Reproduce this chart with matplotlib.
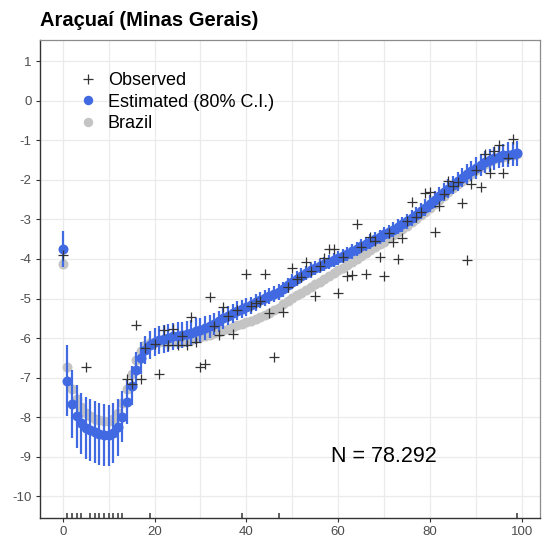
import numpy as np
import matplotlib
matplotlib.use("Agg")
import matplotlib.pyplot as plt
from matplotlib.lines import Line2D
import matplotlib.transforms as mtransforms

plt.rcParams['font.family'] = ['Liberation Sans', 'DejaVu Sans']
plt.rcParams['axes.unicode_minus'] = False

ages = np.arange(0, 100)

# estimated log mortality (blue dots)
estimated = [
    -3.75, -7.08, -7.67, -7.98, -8.16, -8.27, -8.33, -8.38, -8.42, -8.45,
    -8.46, -8.40, -8.25, -7.99, -7.62, -7.20, -6.80, -6.51, -6.30, -6.17,
    -6.10, -6.05, -6.02, -5.99, -5.96, -5.94, -5.92, -5.89, -5.86, -5.82,
    -5.79, -5.75, -5.70, -5.64, -5.58, -5.50, -5.43, -5.37, -5.31, -5.27,
    -5.22, -5.17, -5.10, -5.04, -4.99, -4.94, -4.89, -4.84, -4.76, -4.67,
    -4.58, -4.50, -4.42, -4.35, -4.29, -4.23, -4.18, -4.12, -4.07, -4.03,
    -3.98, -3.93, -3.87, -3.81, -3.75, -3.68, -3.62, -3.56, -3.50, -3.44,
    -3.38, -3.32, -3.26, -3.19, -3.12, -3.04, -2.96, -2.88, -2.79, -2.70,
    -2.60, -2.50, -2.40, -2.31, -2.22, -2.12, -2.03, -1.94, -1.86, -1.78,
    -1.70, -1.62, -1.55, -1.50, -1.45, -1.41, -1.38, -1.36, -1.34, -1.33,
]

# half width of the 80% interval
ci_half = [
    0.45, 0.90, 0.85, 0.80, 0.78, 0.78, 0.78, 0.78, 0.78, 0.78,
    0.78, 0.76, 0.72, 0.65, 0.55, 0.50, 0.45, 0.40, 0.36, 0.35,
    0.35, 0.35, 0.35, 0.35, 0.35, 0.34, 0.33, 0.33, 0.32, 0.32,
    0.31, 0.30, 0.29, 0.28, 0.27, 0.26, 0.25, 0.24, 0.24, 0.23,
    0.23, 0.22, 0.22, 0.21, 0.21, 0.20, 0.20, 0.20, 0.19, 0.19,
    0.19, 0.19, 0.18, 0.18, 0.18, 0.18, 0.18, 0.18, 0.18, 0.18,
    0.18, 0.18, 0.18, 0.18, 0.18, 0.18, 0.18, 0.18, 0.18, 0.18,
    0.18, 0.18, 0.19, 0.19, 0.19, 0.19, 0.20, 0.20, 0.20, 0.21,
    0.21, 0.21, 0.22, 0.22, 0.23, 0.23, 0.24, 0.24, 0.25, 0.26,
    0.27, 0.28, 0.28, 0.29, 0.29, 0.30, 0.30, 0.31, 0.31, 0.31,
]

# Brazil reference schedule (grey dots)
brazil = [
    -4.13, -6.72, -7.30, -7.55, -7.75, -7.90, -7.98, -8.05, -8.08, -8.10,
    -8.10, -8.05, -7.90, -7.65, -7.30, -6.90, -6.55, -6.32, -6.18, -6.12,
    -6.10, -6.10, -6.10, -6.10, -6.10, -6.10, -6.09, -6.07, -6.04, -6.01,
    -5.97, -5.95, -5.92, -5.88, -5.84, -5.80, -5.76, -5.72, -5.68, -5.64,
    -5.60, -5.56, -5.51, -5.46, -5.41, -5.36, -5.30, -5.23, -5.15, -5.07,
    -4.99, -4.92, -4.85, -4.78, -4.71, -4.64, -4.57, -4.50, -4.43, -4.36,
    -4.29, -4.22, -4.15, -4.08, -4.00, -3.92, -3.85, -3.78, -3.70, -3.63,
    -3.56, -3.48, -3.40, -3.32, -3.24, -3.16, -3.07, -2.98, -2.89, -2.80,
    -2.70, -2.60, -2.50, -2.40, -2.31, -2.21, -2.11, -2.02, -1.93, -1.84,
    -1.76, -1.68, -1.60, -1.53, -1.48, -1.44, -1.41, -1.38, -1.36, -1.35,
]

nan = np.nan
# observed log rates (nan where no deaths -> rug)
observed = [
    -3.90, nan, nan, nan, nan, -6.72, nan, nan, nan, nan,
    nan, nan, nan, nan, -7.03, -7.15, -5.67, -7.03, -6.25, nan,
    -6.15, -6.90, -5.79, -6.17, -5.78, -6.17, -5.95, -6.17, -5.47, -6.11,
    -6.72, -6.65, -4.97, -5.70, -5.92, -5.21, -5.45, -5.89, -5.30, nan,
    -4.38, -5.18, -5.12, -5.05, -4.38, -5.37, -6.47, nan, -5.33, -4.70,
    -4.24, -4.50, -4.45, -4.07, -4.30, -4.94, -4.18, -3.97, -3.76, -3.74,
    -4.87, -3.95, -4.43, -4.41, -3.11, -3.70, -4.38, -3.44, -3.55, -3.96,
    -4.43, -3.35, -3.57, -4.01, -3.46, -3.05, -2.56, -2.95, -2.80, -2.33,
    -2.31, -3.32, -2.67, -2.35, -2.02, -2.15, -2.05, -2.59, -4.03, -2.10,
    -1.75, -2.17, -1.34, -1.83, -1.26, -1.11, -1.83, -1.45, -0.97, nan,
]

n_label = "N = 78.292"

estimated = np.array(estimated)
ci_half = np.array(ci_half)
observed = np.array(observed)
rug_ages = ages[np.isnan(observed)]

blue = '#4169E1'
grey_pt = '#C4C4C4'
dark = '#333333'

fig = plt.figure(figsize=(5.43, 5.42), dpi=100)
ax = fig.add_axes([40 / 543, 24 / 542, 500 / 543, 478.5 / 542])

ax.set_xlim(-4.95, 103.95)
ax.set_ylim(-10.55, 1.55)

# grid
for gx in range(0, 101, 10):
    ax.axvline(gx, color='#EBEBEB', lw=0.9, zorder=0)
for gy in range(-10, 2):
    ax.axhline(gy, color='#EBEBEB', lw=0.9, zorder=0)

ax.plot(ages, brazil, 'o', color=grey_pt, markersize=7.2, markeredgewidth=0, zorder=2)
ax.vlines(ages, estimated - ci_half, estimated + ci_half, color=blue, lw=1.6, zorder=3)
ax.plot(ages, estimated, 'o', color=blue, markersize=7.2, markeredgewidth=0, zorder=4)
ax.plot(ages, observed, '+', color=dark, markersize=7.5, markeredgewidth=0.9, zorder=5)

# rug for ages without observed deaths
trans = mtransforms.blended_transform_factory(ax.transData, ax.transAxes)
ax.vlines(rug_ages, 0, 0.01, transform=trans, color=dark, lw=1.1, zorder=6)

ax.text(70, -9, n_label, ha='center', va='center', fontsize=15.5, color='black')

ax.set_xticks([0, 20, 40, 60, 80, 100])
ax.set_yticks(range(-10, 2))
ax.tick_params(axis='both', colors=dark, labelcolor='#4D4D4D', labelsize=9.5,
               length=3, width=0.8, pad=3)

for side in ['top', 'right']:
    ax.spines[side].set_color('#8C8C8C')
    ax.spines[side].set_linewidth(0.9)
for side in ['left', 'bottom']:
    ax.spines[side].set_color(dark)
    ax.spines[side].set_linewidth(1.0)

handles = [
    Line2D([], [], marker='+', linestyle='', color=dark, markersize=7.5, markeredgewidth=0.9),
    Line2D([], [], marker='o', linestyle='', color=blue, markersize=6.8, markeredgewidth=0),
    Line2D([], [], marker='o', linestyle='', color=grey_pt, markersize=6.8, markeredgewidth=0),
]
labels = ['Observed', 'Estimated (80% C.I.)', 'Brazil']
ax.legend(handles, labels, loc='upper left', bbox_to_anchor=(0.078, 0.932),
          frameon=False, fontsize=13, handlelength=1.0, handletextpad=0.6,
          labelspacing=0.25, borderpad=0, borderaxespad=0)

fig.text(40 / 543, 1 - 20 / 542, "Araçuaí (Minas Gerais)", fontsize=14.5,
         fontweight='bold', ha='left', va='center')

fig.savefig('out.png', dpi=100)
